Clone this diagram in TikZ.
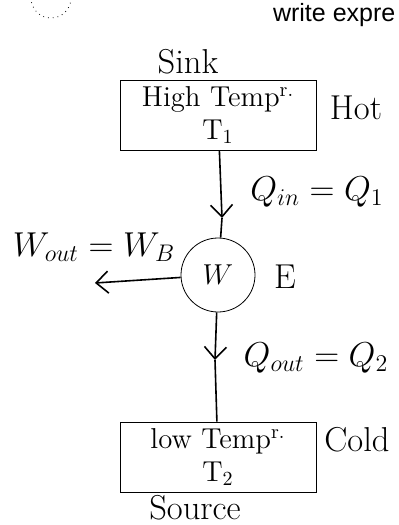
\documentclass[tikz,border=0pt]{standalone}
\usepackage{fontspec}
\newfontfamily\arialfont{Liberation Sans}
\usetikzlibrary{shapes.geometric, arrows.meta}
\tikzstyle{reservoir} = [
    rectangle,
    minimum width=98pt,
    minimum height=35pt,
    inner sep=0pt,
    align=center,
    font=\Large\linespread{0.9}\selectfont,
    draw=black
]
\tikzstyle{device} = [
    circle,
    minimum size=37pt,
    font=\Large,
    draw=black
]
\tikzstyle{note} = [font=\LARGE]
\tikzstyle{arrow} = [thick,->,>={Straight Barb[length=6pt,width=11pt]}]

\begin{document}
\begin{tikzpicture}[x=0.5pt, y=-0.5pt, node distance=80pt]
\useasboundingbox (0,0) rectangle (398,525);
\clip (0,0) rectangle (398,525);

\draw [dotted] (51,-2) circle (20);
\node (title) [anchor=base west, font=\arialfont\fontsize{12.5}{15}\selectfont] at (266,21) {write expre};

\node (hot) [reservoir] at (218,115) {High Temp\textsuperscript{r.}\\T$_1$};

\node (engine) [device, below of=hot] {$W$};

\node (cold) [reservoir, node distance=91pt, below of=engine]
{low Temp\textsuperscript{r.}\\T$_2$};

\coordinate (qin) at (222,218);
\coordinate (qout) at (215,360);
\coordinate (wout) at (95,283);

\draw [arrow] (hot) -- (qin);
\draw [thick] (qin) -- (engine);
\draw [arrow] (engine) -- (wout);
\draw [arrow] (engine) -- (qout);
\draw [thick] (qout) -- (cold);

\node (sink) [note] at (188,62) {Sink};
\node (hotlabel) [note] at (356,108) {Hot};
\node (qinlabel) [note] at (317,192) {$Q_{in}=Q_1$};
\node (woutlabel) [note] at (94,247) {$W_{out}=W_B$};
\node (elabel) [note] at (285,277) {E};
\node (qoutlabel) [note] at (316,358) {$Q_{out}=Q_2$};
\node (coldlabel) [note] at (357,440) {Cold};
\node (source) [note] at (195,508) {Source};

\end{tikzpicture}
\end{document}
